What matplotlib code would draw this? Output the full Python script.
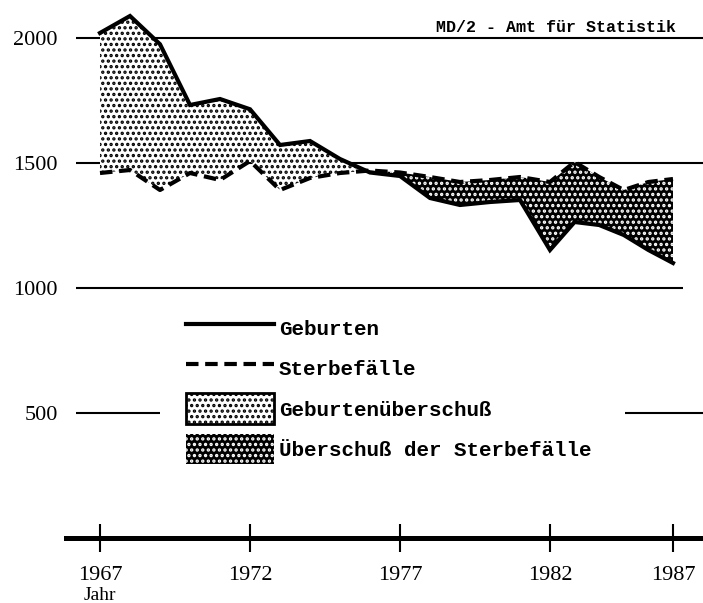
import numpy as np
import matplotlib
matplotlib.use('Agg')
import matplotlib.pyplot as plt
from matplotlib.patches import Patch
from matplotlib.lines import Line2D

# data
jahre = np.arange(1967, 1988)
geburten = np.array([2020, 2088, 1975, 1732, 1756, 1715, 1572, 1588, 1516, 1462, 1448,
                     1360, 1332, 1344, 1352, 1152, 1264, 1252, 1212, 1152, 1100])
sterbefaelle = np.array([1460, 1472, 1392, 1460, 1432, 1508, 1392, 1440, 1460, 1470, 1462,
                         1444, 1424, 1432, 1444, 1424, 1504, 1444, 1392, 1424, 1436])
xticks = [1967, 1972, 1977, 1982, 1987]
yticks = [500, 1000, 1500, 2000]
title = 'MD/2 - Amt für Statistik'

# the drawn year axis is squeezed after 1982
def fwd(x):
    x = np.asarray(x, dtype=float)
    return np.where(x <= 1982, x, 1982 + (x - 1982) * 0.82)

def inv(t):
    t = np.asarray(t, dtype=float)
    return np.where(t <= 1982, t, 1982 + (t - 1982) / 0.82)

plt.rcParams['hatch.linewidth'] = 1.6
mono = 'Liberation Mono'
serif = 'Liberation Serif'

fig = plt.figure(figsize=(7.03, 6.03), dpi=100)
ax = fig.add_axes([66 / 703, 65 / 603, 1 - 66 / 703, 538 / 603])
ax.set_xscale('function', functions=(fwd, inv))
ax.set_xlim(1965.867, 1988.22)
ax.set_ylim(0, 2152)

# grid lines
ax.hlines([2000, 1500], 1966.2, 1988.22, color='black', lw=1.5)
ax.hlines(1000, 1966.2, 1987.4, color='black', lw=1.5)
ax.hlines(500, 1966.2, 1969.0, color='black', lw=1.5)
ax.hlines(500, 1985.05, 1988.22, color='black', lw=1.5)

# areas
ax.fill_between(jahre, sterbefaelle, geburten, where=geburten >= sterbefaelle,
                interpolate=True, facecolor='white', edgecolor='black',
                hatch='...', lw=0, zorder=2)
ax.fill_between(jahre, sterbefaelle, geburten, where=geburten <= sterbefaelle,
                interpolate=True, facecolor='black', edgecolor='white',
                hatch='...', lw=0, zorder=2)

ax.plot(jahre, geburten, color='black', lw=3, zorder=3, solid_joinstyle='miter')
ax.plot(jahre, sterbefaelle, color='black', lw=3, ls=(0, (3, 1.6)), zorder=3)

# axes styling
for s in ['left', 'right', 'top']:
    ax.spines[s].set_visible(False)
ax.spines['bottom'].set_linewidth(3.6)
ax.spines['bottom'].set_zorder(4)

ax.set_xticks(xticks)
ax.set_xticklabels([str(x) for x in xticks], fontfamily=serif, fontsize=16)
ax.tick_params(axis='x', direction='inout', length=20, width=1.5, pad=10)
ax.set_yticks(yticks)
ax.set_yticklabels([str(y) for y in yticks], fontfamily=serif, fontsize=16)
ax.tick_params(axis='y', length=0, pad=6)

ax.text(1967, -232, 'Jahr', fontfamily=serif, fontsize=14, ha='center', va='center')

fig.text(0.62, 1 - 28 / 603, title, fontfamily=mono, fontsize=12, fontweight='bold',
         ha='left', va='center')

handles = [
    Line2D([], [], color='black', lw=3),
    Line2D([], [], color='black', lw=3, ls=(0, (3, 1.6))),
    Patch(facecolor='white', edgecolor='black', hatch='...', lw=2),
    Patch(facecolor='black', edgecolor='white', hatch='...', lw=0),
]
labels = ['Geburten', 'Sterbefälle', 'Geburtenüberschuß', 'Überschuß der Sterbefälle']
leg = fig.legend(handles, labels, loc='upper left', bbox_to_anchor=(186 / 703, 1 - 313 / 603),
                 frameon=False, handlelength=4.2, handleheight=1.9, labelspacing=0.45,
                 handletextpad=0.25, borderpad=0, borderaxespad=0,
                 prop={'family': mono, 'size': 15, 'weight': 'bold'})

fig.savefig('out.png', dpi=100)
